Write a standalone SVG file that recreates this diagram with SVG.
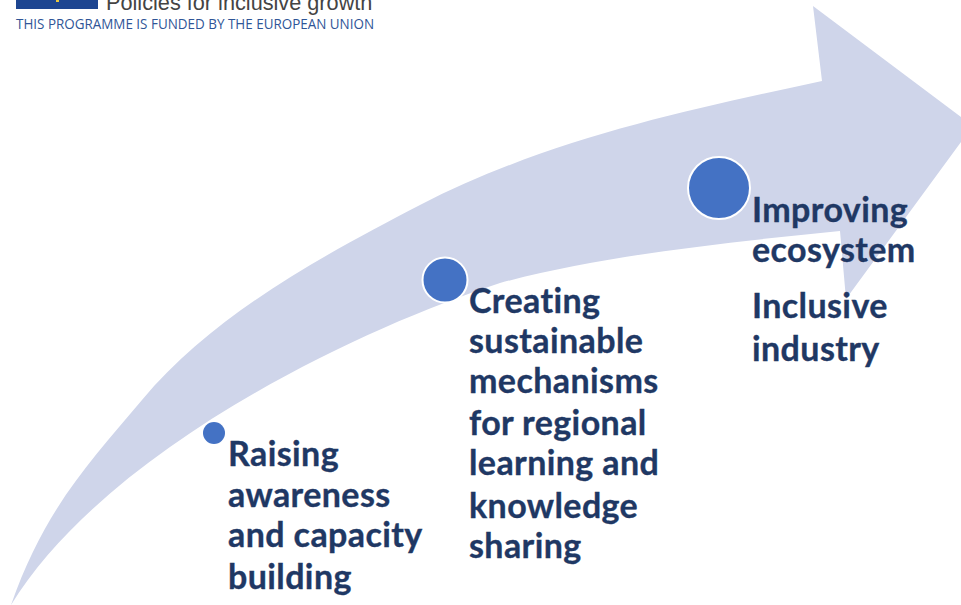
<svg xmlns="http://www.w3.org/2000/svg" width="961" height="605" viewBox="0 0 961 605">
<style>
.l{font-family:"Lato","Open Sans",sans-serif;font-weight:700;font-size:34px;letter-spacing:.4px;fill:#1f3864;stroke:#1f3864;stroke-width:.35}
.d{fill:#4472c4;stroke:#fff;stroke-width:2}
</style>
<rect width="961" height="605" fill="#fff"/>
<g id="logo">
<rect x="16" y="0" width="82" height="9" fill="#1d4591"/>
<rect x="56" y="0" width="3" height="2" fill="#e8c840"/>
<text x="106" y="10" font-family="'Liberation Sans',sans-serif" font-size="21.7" fill="#444">Policies for inclusive growth</text>
<text x="16" y="29" font-family="'Open Sans',sans-serif" font-size="14" fill="#2f5597" textLength="358" lengthAdjust="spacingAndGlyphs">THIS PROGRAMME IS FUNDED BY THE EUROPEAN UNION</text>
</g>
<g id="arrow">
<path fill="#cfd5ea" d="M11 605C45 508 90 462 142 400C215 312 330 252 420 205C550 138 692 109 822 81L813 6L961 117V142L846 299L840 231C720 243 600 256 500 283C350 332 105 452 11 605Z"/>
</g>
<g id="step1">
<circle cx="214" cy="433" r="11" fill="#4472c4"/>
<text class="l" x="228" y="466">Raising</text>
<text class="l" x="228" y="507">awareness</text>
<text class="l" x="228" y="547">and capacity</text>
<text class="l" x="228" y="589">building</text>
</g>
<g id="step2">
<circle class="d" cx="445" cy="280" r="22.5"/>
<text class="l" x="469" y="313">Creating</text>
<text class="l" x="469" y="353">sustainable</text>
<text class="l" x="469" y="393">mechanisms</text>
<text class="l" x="469" y="435">for regional</text>
<text class="l" x="469" y="475">learning and</text>
<text class="l" x="469" y="518">knowledge</text>
<text class="l" x="469" y="558">sharing</text>
</g>
<g id="step3">
<circle class="d" cx="719" cy="188" r="31"/>
<text class="l" x="752" y="222">Improving</text>
<text class="l" x="752" y="262">ecosystem</text>
<text class="l" x="752" y="318">Inclusive</text>
<text class="l" x="752" y="361">industry</text>
</g>
</svg>
